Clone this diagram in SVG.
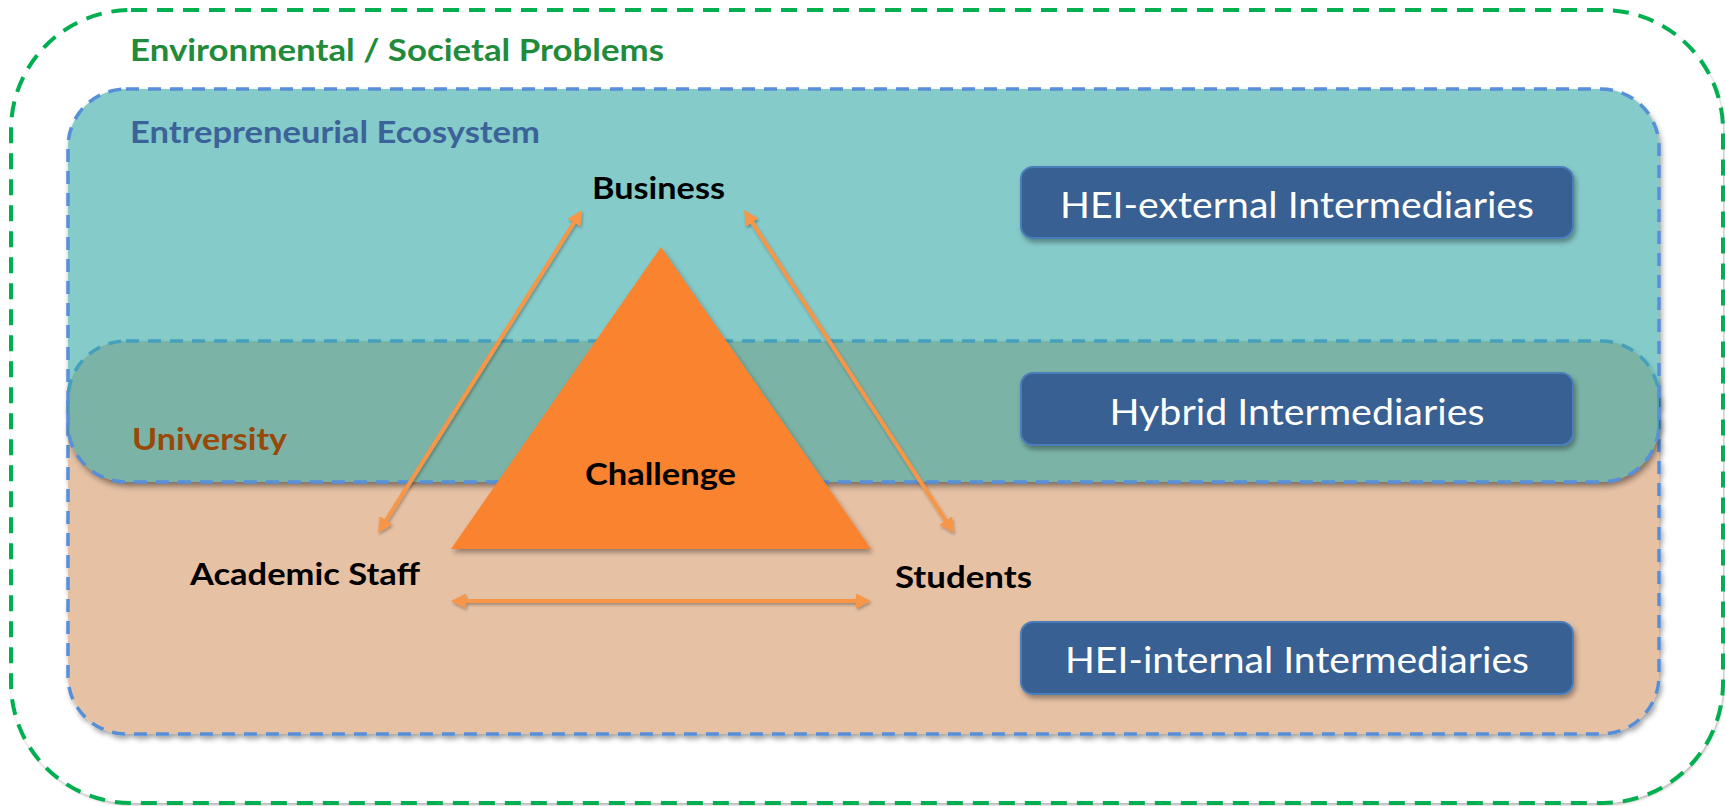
<svg xmlns="http://www.w3.org/2000/svg" width="1725" height="806" viewBox="0 0 1725 806">
  <defs>
    <style>
      .lbl { font-family: Lato, "Open Sans", "Liberation Sans", sans-serif; font-weight: bold; font-size: 31px; }
      .node { fill: #000000; }
      .inter-box { fill: #376092; stroke: #4a7ebb; stroke-width: 2; }
      .inter-txt { font-family: Lato, "Open Sans", "Liberation Sans", sans-serif; font-size: 36.5px; fill: #ffffff; text-anchor: middle; }
      .dash-blue { stroke: #578fd8; stroke-width: 3.5; stroke-dasharray: 13 9; }
      .conn { stroke: #f79646; stroke-width: 4; fill: none; marker-start: url(#arr); marker-end: url(#arr); }
    </style>
    <filter id="sh" x="-10%" y="-10%" width="130%" height="130%">
      <feDropShadow dx="2" dy="3.5" stdDeviation="2.5" flood-color="#000" flood-opacity="0.35"/>
    </filter>
    <filter id="shSoft" x="-5%" y="-5%" width="110%" height="110%">
      <feDropShadow dx="1" dy="2" stdDeviation="1.5" flood-color="#000" flood-opacity="0.3"/>
    </filter>
    <filter id="blur" x="-5%" y="-5%" width="110%" height="115%">
      <feGaussianBlur stdDeviation="3"/>
    </filter>
    <mask id="ecoMask" maskUnits="userSpaceOnUse" x="0" y="0" width="1725" height="806">
      <rect x="0" y="0" width="1725" height="806" fill="#fff"/>
      <rect x="68" y="89" width="1591" height="393" rx="58" ry="58" fill="#000"/>
    </mask>
    <marker id="arr" markerUnits="userSpaceOnUse" markerWidth="16" markerHeight="16" viewBox="0 0 16 16" refX="7" refY="7.5" orient="auto-start-reverse">
      <path d="M0,0 L15,7.5 L0,15 z" fill="#f79646"/>
    </marker>
  </defs>

  <rect x="0" y="0" width="1725" height="806" fill="#ffffff"/>

  <!-- Environmental / Societal Problems -->
  <g id="environment">
    <rect x="11" y="10" width="1712" height="793" rx="120" ry="120" fill="#ffffff" filter="url(#shSoft)"/>
    <rect x="11" y="10" width="1712" height="793" rx="120" ry="120" fill="none" stroke="#00b050" stroke-width="4" stroke-dasharray="16 10"/>
    <text class="lbl" x="130" y="61" fill="#228b3b" textLength="534" lengthAdjust="spacingAndGlyphs">Environmental / Societal Problems</text>
  </g>

  <!-- University -->
  <g id="university">
    <rect x="68" y="341" width="1591" height="393" rx="58" ry="58" fill="#e6c1a4" class="dash-blue" filter="url(#sh)"/>
  </g>

  <!-- Entrepreneurial Ecosystem -->
  <g id="ecosystem">
    <g mask="url(#ecoMask)">
      <rect x="68" y="89" width="1591" height="393" rx="58" ry="58" fill="#000" opacity="0.45" transform="translate(2,4)" filter="url(#blur)"/>
    </g>
    <rect x="68" y="89" width="1591" height="393" rx="58" ry="58" fill="#39aaa9" fill-opacity="0.615" class="dash-blue"/>
    <text class="lbl" x="130" y="143" fill="#3c6399" textLength="410" lengthAdjust="spacingAndGlyphs">Entrepreneurial Ecosystem</text>
  </g>

  <g id="university-label">
    <text class="lbl" x="132" y="450" fill="#984807" textLength="155" lengthAdjust="spacingAndGlyphs">University</text>
  </g>

  <!-- Intermediaries -->
  <g id="hei-external">
    <rect class="inter-box" x="1021" y="167" width="552" height="71" rx="12" ry="12" filter="url(#sh)"/>
    <text class="inter-txt" x="1297" y="218" textLength="474" lengthAdjust="spacingAndGlyphs">HEI-external Intermediaries</text>
  </g>
  <g id="hybrid">
    <rect class="inter-box" x="1021" y="373" width="552" height="72" rx="12" ry="12" filter="url(#sh)"/>
    <text class="inter-txt" x="1297" y="425" textLength="375" lengthAdjust="spacingAndGlyphs">Hybrid Intermediaries</text>
  </g>
  <g id="hei-internal">
    <rect class="inter-box" x="1021" y="622" width="552" height="72" rx="12" ry="12" filter="url(#sh)"/>
    <text class="inter-txt" x="1297" y="673" textLength="464" lengthAdjust="spacingAndGlyphs">HEI-internal Intermediaries</text>
  </g>

  <!-- Challenge triangle -->
  <g id="challenge">
    <polygon points="661,247 451,549 871,549" fill="#f9832e" filter="url(#sh)"/>
    <text class="lbl node" x="585" y="485" textLength="151" lengthAdjust="spacingAndGlyphs">Challenge</text>
  </g>

  <!-- Actors -->
  <g id="business">
    <text class="lbl node" x="592" y="199" textLength="133" lengthAdjust="spacingAndGlyphs">Business</text>
  </g>
  <g id="academic-staff">
    <text class="lbl node" x="190" y="585" textLength="230" lengthAdjust="spacingAndGlyphs">Academic Staff</text>
  </g>
  <g id="students">
    <text class="lbl node" x="895" y="588" textLength="137" lengthAdjust="spacingAndGlyphs">Students</text>
  </g>

  <!-- Connectors -->
  <g id="connectors" filter="url(#shSoft)">
    <line class="conn" x1="382.3" y1="526.2" x2="577.7" y2="216.8"/>
    <line class="conn" x1="748.4" y1="216.7" x2="949.6" y2="526.3"/>
    <line class="conn" x1="459" y1="601" x2="863" y2="601"/>
  </g>
</svg>
